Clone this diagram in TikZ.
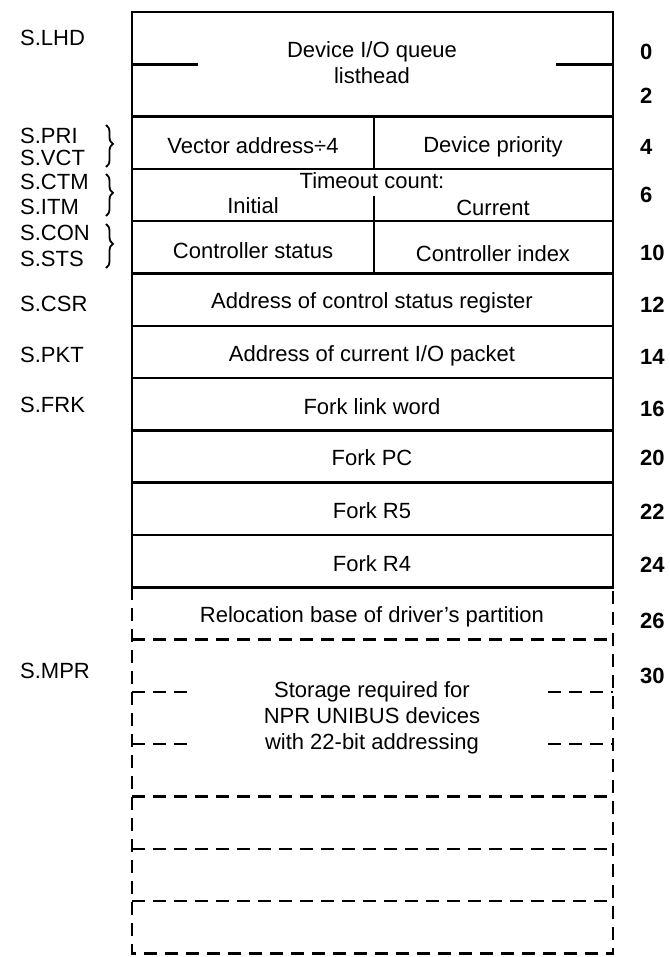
\documentclass[tikz,border=0pt]{standalone}
\usepackage{fontspec}
\setmainfont{Liberation Sans}
\usetikzlibrary{decorations.pathreplacing}

\begin{document}
\begin{tikzpicture}[x=1pt,y=-1pt,
  every node/.style={font=\fontsize{22}{26}\selectfont,inner sep=0pt},
  word/.style={line width=2.5pt},
  spare/.style={line width=2.5pt,dash pattern=on 13pt off 8pt},
  sym/.style={anchor=west},
  off/.style={anchor=west,font=\fontsize{22}{26}\selectfont\bfseries},
  grp/.style={decorate,decoration={brace,amplitude=7pt,aspect=0.45},line width=1.8pt}]
\useasboundingbox (0,0) rectangle (669,957);
\def\row#1{12+52.3*#1}
\coordinate (nw) at (132,12);
\coordinate (ne) at (613,12);
\coordinate (sw) at (132,{\row{11}});
\coordinate (se) at (613,{\row{11}});
\coordinate (bl) at (132,{\row{18}});
\coordinate (br) at (613,{\row{18}});
\draw[word] (sw) -- (nw) -- (ne) -- (se) -- cycle;
\foreach \k in {2,...,10}
  \draw[word] (132,{\row{\k}}) -- (613,{\row{\k}});
\draw[word] (132,{\row{1}}) -- (198,{\row{1}});
\draw[word] (556,{\row{1}}) -- (613,{\row{1}});
\draw[word] (374,{\row{2}}) -- (374,{\row{3}});
\draw[word] (374,196) -- (374,{\row{5}});
\draw[spare] (sw) -- (bl) -- (br) -- (se);
\foreach \k in {12,15,16,17}
  \draw[spare] (132,{\row{\k}}) -- (613,{\row{\k}});
\foreach \k in {13,14} {
  \draw[spare] (132,{\row{\k}}) -- (190,{\row{\k}});
  \draw[spare] (548,{\row{\k}}) -- (613,{\row{\k}});
}
\node[align=center] (lhd) at (372,63) {Device I/O queue\\listhead};
\node (vct) at (253,146) {Vector address\char"00F7 4};
\node (pri) at (493,147) {Device priority};
\node (tmo) at (372,181) {Timeout count:};
\node (itm) at (253,206) {Initial};
\node (ctm) at (493,208) {Current};
\node (sts) at (253,251) {Controller status};
\node (con) at (493,254) {Controller index};
\node (csr) at (372,303) {Address of control status register};
\node (pkt) at (372,356) {Address of current I/O packet};
\node (frk) at (372,407) {Fork link word};
\node (fpc) at (372,458) {Fork PC};
\node (fr5) at (372,511) {Fork R5};
\node (fr4) at (372,564) {Fork R4};
\node (rel) at (372,617) {Relocation base of driver's partition};
\node[align=center] (mpr) at (372,718) {Storage required for\\NPR UNIBUS devices\\with 22-bit addressing};
\node[sym] (s-lhd) at (20,38) {S.LHD};
\node[sym] (s-pri) at (20,136) {S.PRI};
\node[sym] (s-vct) at (20,158) {S.VCT};
\node[sym] (s-ctm) at (20,182) {S.CTM};
\node[sym] (s-itm) at (20,207) {S.ITM};
\node[sym] (s-con) at (20,233) {S.CON};
\node[sym] (s-sts) at (20,259) {S.STS};
\node[sym] (s-csr) at (20,304) {S.CSR};
\node[sym] (s-pkt) at (20,355) {S.PKT};
\node[sym] (s-frk) at (20,405) {S.FRK};
\node[sym] (s-mpr) at (20,671) {S.MPR};
\draw[grp] (106,125) -- (106,167);
\draw[grp] (106,174) -- (106,216);
\draw[grp] (106,224) -- (106,268);
\foreach \n/\y in {0/52,2/96,4/147,6/195,10/253,12/305,14/357,16/409,20/458,22/512,24/565,26/621,30/676}
  \node[off] (o-\n) at (640,\y) {\n};
\end{tikzpicture}
\end{document}
